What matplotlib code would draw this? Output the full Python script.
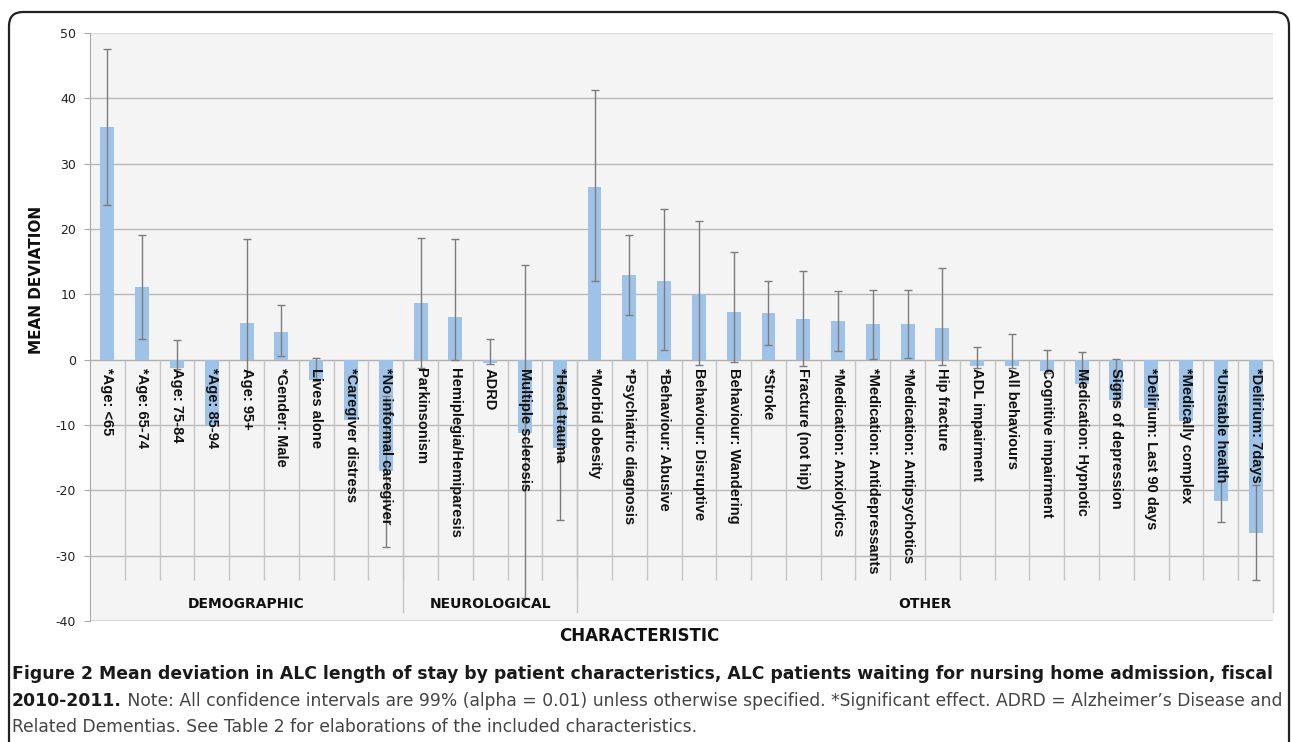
import numpy as np
import matplotlib
matplotlib.use("Agg")
import matplotlib.pyplot as plt
from matplotlib.patches import FancyBboxPatch

plt.rcParams["axes.unicode_minus"] = False

# data
labels = ["*Age: <65", "*Age: 65-74", "Age: 75-84", "*Age: 85-94", "Age: 95+",
          "*Gender: Male", "Lives alone", "*Caregiver distress", "*No informal caregiver",
          "Parkinsonism", "Hemiplegia/Hemiparesis", "ADRD", "Multiple sclerosis", "*Head trauma",
          "*Morbid obesity", "*Psychiatric diagnosis", "*Behaviour: Abusive",
          "Behaviour: Disruptive", "Behaviour: Wandering", "*Stroke", "Fracture (not hip)",
          "*Medication: Anxiolytics", "*Medication: Antidepressants",
          "*Medication: Antipsychotics", "Hip fracture", "ADL impairment", "All behaviours",
          "Cognitive impairment", "Medication: Hypnotic", "Signs of depression",
          "*Delirium: Last 90 days", "*Medically complex", "*Unstable health",
          "*Delirium: 7days"]
means = [35.6, 11.1, -1.2, -10.0, 5.6, 4.3, -3.1, -9.2, -17.1,
         8.7, 6.6, -0.5, -11.2, -13.5,
         26.5, 12.9, 12.1, 10.1, 7.3, 7.1, 6.2, 5.9, 5.4, 5.4, 4.9,
         -1.0, -1.0, -1.8, -3.8, -6.1, -7.4, -9.4, -21.7, -26.5]
ci_low = [23.7, 3.2, -1.5, np.nan, -1.8, 0.5, -3.3, np.nan, -28.6,
          -1.2, 0.0, -0.6, -36.5, -24.6,
          12.1, 6.9, 1.5, -0.8, -0.3, 2.3, -1.0, 1.4, 0.15, 0.26, -0.8,
          -1.2, -1.2, -2.0, -4.0, -6.3, np.nan, np.nan, -24.9, -33.8]
ci_high = [47.6, 19.1, 3.0, np.nan, 18.5, 8.4, 0.26, np.nan, -5.6,
           18.6, 18.5, 3.2, 14.5, -2.4,
           41.3, 19.1, 23.1, 21.3, 16.5, 12.1, 13.5, 10.5, 10.7, 10.6, 14.0,
           2.0, 3.9, 1.5, 1.1, 0.15, np.nan, np.nan, -18.5, -19.2]
groups = ["DEMOGRAPHIC", "NEUROLOGICAL", "OTHER"]
group_sizes = [9, 5, 20]

NARROW = ["DejaVu Sans Condensed", "Liberation Sans Narrow", "DejaVu Sans"]
W, H = 1292, 742

fig = plt.figure(figsize=(W / 100, H / 100), dpi=100)

# pixel-space overlay for frame and caption
pax = fig.add_axes([0, 0, 1, 1], zorder=0)
pax.set_xlim(0, W)
pax.set_ylim(H, 0)
pax.set_axis_off()
pax.add_patch(FancyBboxPatch((9, 12), 1280, 780, boxstyle="round,pad=0,rounding_size=14",
                             fill=False, ec="#222222", lw=1.6, clip_on=False))

ax = fig.add_axes([90 / W, 1 - 621 / H, (1273 - 90) / W, (621 - 33) / H], zorder=1)
ax.set_facecolor("#f4f4f4")
x = np.arange(len(labels))
m = np.array(means)
lo = np.array(ci_low)
hi = np.array(ci_high)

ax.set_xlim(-0.5, len(labels) - 0.5)
ax.set_ylim(-40, 50)

for v in [10, 20, 30, 40, -10, -20, -30]:
    ax.axhline(v, color="#b8b8b8", lw=1, zorder=1)
ax.axhline(50, color="#dedede", lw=1, zorder=1)
ax.axhline(-40, color="#d0d0d0", lw=1.2, zorder=1)
ax.axhline(0, color="#b0b0b0", lw=1, zorder=1)

ax.vlines(x[:-1] + 0.5, -33.7, 0, color="#c6c6c6", lw=1, zorder=1)
bounds = np.cumsum(group_sizes) - 0.5
ax.vlines(bounds, -38.7, 0, color="#c6c6c6", lw=1, zorder=1, clip_on=False)

ax.bar(x, m, width=0.4, color="#9fc3e8", zorder=2)
ax.errorbar(x, m, yerr=[m - lo, hi - m], fmt="none", ecolor="#7c7c7c",
            elinewidth=1, capsize=3, capthick=1, zorder=3)

for i, lab in enumerate(labels):
    ax.annotate(lab, (i, 0), xytext=(0, -8), textcoords="offset pixels",
                rotation=270, ha="center", va="top", fontsize=10.5,
                fontweight="semibold", family="Liberation Sans", color="#111111", zorder=4)

starts = np.concatenate([[0], np.cumsum(group_sizes)[:-1]])
for g, s, n in zip(groups, starts, group_sizes):
    ax.text(s + n / 2 - 0.5, -37.4, g, ha="center", va="center", fontsize=10,
            fontweight="bold", family=NARROW, color="#111111")

ax.set_xticks([])
ax.set_yticks(range(-40, 51, 10))
ax.tick_params(axis="y", direction="out", length=4, color="#a8a8a8",
               labelsize=9, pad=6, labelcolor="#222222")
for s in ["top", "right", "bottom"]:
    ax.spines[s].set_visible(False)
ax.spines["left"].set_color("#a8a8a8")

pax.text(37, 280, "MEAN DEVIATION", rotation=90, ha="center", va="center",
         fontsize=11, fontweight="bold", family=NARROW, color="#111111")
pax.text(639, 636, "CHARACTERISTIC", ha="center", va="center",
         fontsize=12, fontweight="bold", family=NARROW, color="#111111")

# caption
line1 = ("Figure 2 Mean deviation in ALC length of stay by patient characteristics, "
         "ALC patients waiting for nursing home admission, fiscal")
bold2 = "2010-2011."
reg2 = (" Note: All confidence intervals are 99% (alpha = 0.01) unless otherwise specified. "
        "*Significant effect. ADRD = Alzheimer\u2019s Disease and")
line3 = "Related Dementias. See Table 2 for elaborations of the included characteristics."

fig.canvas.draw()
r = fig.canvas.get_renderer()
t1 = pax.text(12, 674, line1, fontsize=14, fontweight="bold", family=NARROW,
              va="center", color="#1a1a1a")
fs = 14 * 1264 / t1.get_window_extent(r).width
t1.set_fontsize(fs)
t2 = pax.text(12, 701, bold2, fontsize=fs, fontweight="bold", family=NARROW,
              va="center", color="#1a1a1a")
w2 = t2.get_window_extent(r).width
t3 = pax.text(12 + w2, 701, reg2, fontsize=13, family=NARROW, va="center", color="#444444")
fs2 = 13 * (1278 - 12 - w2) / t3.get_window_extent(r).width
t3.set_fontsize(fs2)
pax.text(12, 727, line3, fontsize=fs2, family=NARROW, va="center", color="#444444")

fig.savefig("out.png", dpi=100)
